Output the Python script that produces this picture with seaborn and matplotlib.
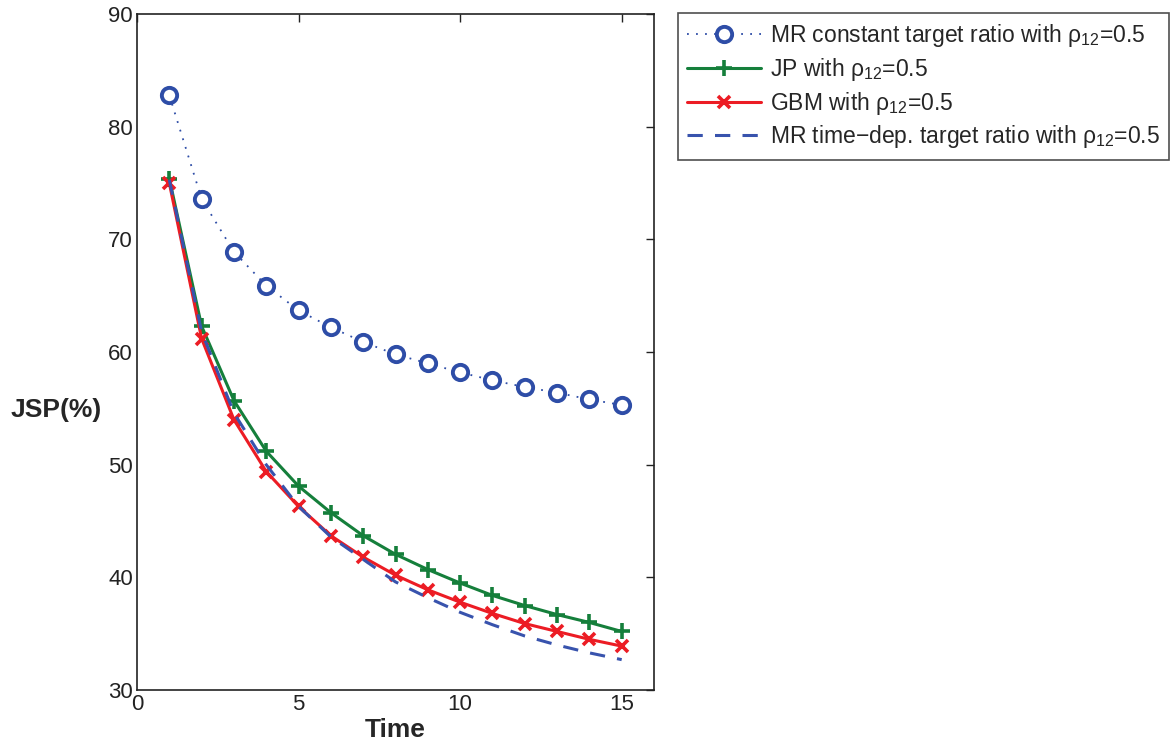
import matplotlib
matplotlib.use("Agg")
import matplotlib.pyplot as plt
import seaborn as sns

time = [1, 2, 3, 4, 5, 6, 7, 8, 9, 10, 11, 12, 13, 14, 15]
mr_constant = [82.8, 73.6, 68.9, 65.9, 63.7, 62.2, 60.9, 59.8, 59.0, 58.2, 57.5, 56.9, 56.4, 55.8, 55.3]
jp = [75.4, 62.3, 55.7, 51.2, 48.1, 45.75, 43.7, 42.05, 40.7, 39.5, 38.4, 37.5, 36.7, 36.0, 35.2]
gbm = [75.0, 61.2, 54.0, 49.4, 46.3, 43.7, 41.8, 40.2, 38.9, 37.8, 36.8, 35.9, 35.2, 34.5, 33.9]
mr_timedep = [75.3, 61.8, 54.6, 50.0, 46.3, 43.6, 41.6, 39.6, 38.2, 36.9, 35.8, 34.8, 34.0, 33.3, 32.7]

labels = [
    "MR constant target ratio with ρ$_{12}$=0.5",
    "JP with ρ$_{12}$=0.5",
    "GBM with ρ$_{12}$=0.5",
    "MR time\u2212dep. target ratio with ρ$_{12}$=0.5",
]

sns.set_style("white")
plt.rcParams["font.family"] = ["Liberation Sans", "DejaVu Sans"]
plt.rcParams["mathtext.fontset"] = "custom"
plt.rcParams["mathtext.rm"] = "Liberation Sans"
plt.rcParams["mathtext.it"] = "Liberation Sans"
plt.rcParams["mathtext.default"] = "regular"

fig = plt.figure(figsize=(11.71, 7.46), dpi=100)
ax = fig.add_axes([0.117, 0.075, 0.4415, 0.906])

blue = "#2E4DA7"
green = "#157F3B"
red = "#EC1C24"
blue_dash = "#3853AD"

sns.lineplot(x=time, y=mr_constant, ax=ax, color=blue, linestyle=(0, (1, 4)), linewidth=1.3,
             marker="o", markersize=11, markerfacecolor="white", markeredgewidth=2.8,
             markeredgecolor=blue, label=labels[0])
sns.lineplot(x=time, y=jp, ax=ax, color=green, linewidth=2.2, marker="+", markersize=11,
             markeredgewidth=2.6, markeredgecolor=green, label=labels[1])
sns.lineplot(x=time, y=gbm, ax=ax, color=red, linewidth=2.2, marker="x", markersize=8,
             markeredgewidth=2.6, markeredgecolor=red, label=labels[2])
sns.lineplot(x=time, y=mr_timedep, ax=ax, color=blue_dash, linewidth=2.2,
             linestyle=(0, (5, 4)), label=labels[3])

ax.set_xlim(0, 16)
ax.set_ylim(30, 90)
ax.set_xticks([0, 5, 10, 15])
ax.set_yticks([30, 40, 50, 60, 70, 80, 90])
ax.tick_params(direction="in", length=6, width=1, labelsize=16, colors="#222222",
               top=True, right=True, pad=3)
for s in ax.spines.values():
    s.set_color("#222222")
    s.set_linewidth(1.2)

ax.set_xlabel("Time", fontsize=19, fontweight="bold", labelpad=2)
ax.set_ylabel("JSP(%)", fontsize=19, fontweight="bold", rotation=0,
              ha="center", va="center")
ax.yaxis.set_label_coords(-0.157, 0.415)

handles, lbls = ax.get_legend_handles_labels()
ax.get_legend().remove()
leg = fig.legend(handles, lbls, loc="upper left", bbox_to_anchor=(0.579, 0.983),
                 fontsize=16.5, frameon=True, fancybox=False, edgecolor="#222222",
                 handlelength=3.2, handletextpad=0.4, labelspacing=0.3, borderpad=0.4,
                 borderaxespad=0)
leg.get_frame().set_linewidth(1.2)

fig.savefig("out.png", dpi=100, facecolor="white")
